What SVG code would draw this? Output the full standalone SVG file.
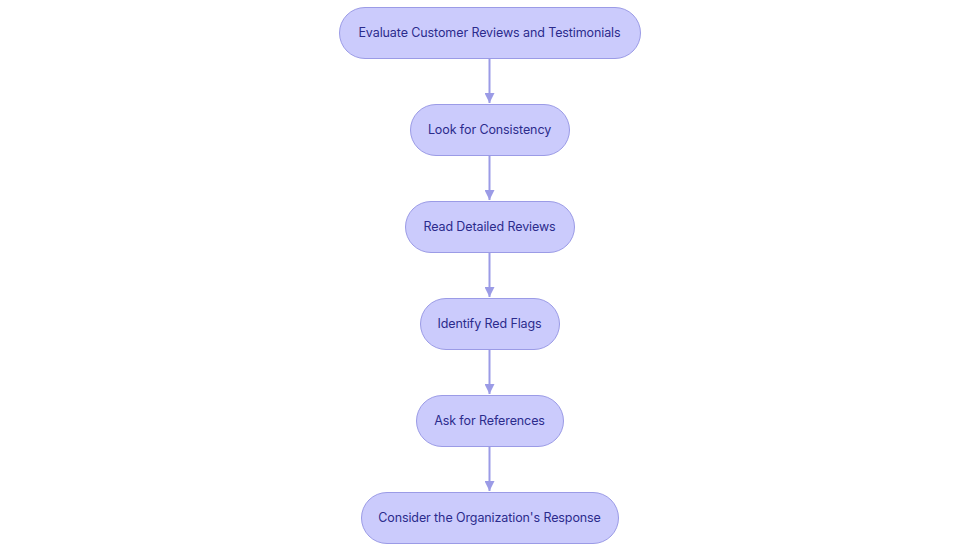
<svg xmlns="http://www.w3.org/2000/svg" width="980" height="553" viewBox="0 0 980 553">
<style>
.node rect{fill:#cbcbfc;stroke:#9b9be6;stroke-width:1}
.node text{font-family:Inter,"Liberation Sans",sans-serif;font-size:12.5px;letter-spacing:-0.1px;fill:#2b2b8c;text-anchor:middle;dominant-baseline:central}
.edge{stroke:#9b9be6;stroke-width:2;fill:none}
</style>
<defs>
<marker id="arr" viewBox="0 0 10 10" refX="10" refY="5" markerWidth="10" markerHeight="10" markerUnits="userSpaceOnUse" orient="auto">
<path d="M0,0 L10,5 L0,10 z" fill="#9b9be6"/>
</marker>
</defs>
<rect width="980" height="553" fill="#ffffff"/>
<g id="connectors">
<path class="edge" d="M489.5,58 V103" marker-end="url(#arr)"/>
<path class="edge" d="M489.5,155 V200" marker-end="url(#arr)"/>
<path class="edge" d="M489.5,252 V297" marker-end="url(#arr)"/>
<path class="edge" d="M489.5,349 V394" marker-end="url(#arr)"/>
<path class="edge" d="M489.5,446 V491" marker-end="url(#arr)"/>
</g>
<g id="n1" class="node"><rect x="339.5" y="7.5" width="301" height="51" rx="25.5"/><text x="489.5" y="32.5">Evaluate Customer Reviews and Testimonials</text></g>
<g id="n2" class="node"><rect x="410.5" y="104.5" width="159" height="51" rx="25.5"/><text x="489.5" y="129.5">Look for Consistency</text></g>
<g id="n3" class="node"><rect x="405.5" y="201.5" width="169" height="51" rx="25.5"/><text x="489.5" y="226.5">Read Detailed Reviews</text></g>
<g id="n4" class="node"><rect x="420.5" y="298.5" width="139" height="51" rx="25.5"/><text x="489.5" y="323.5">Identify Red Flags</text></g>
<g id="n5" class="node"><rect x="416.5" y="395.5" width="147" height="51" rx="25.5"/><text x="489.5" y="420.5">Ask for References</text></g>
<g id="n6" class="node"><rect x="361.5" y="492.5" width="257" height="51" rx="25.5"/><text x="489.5" y="517.5">Consider the Organization's Response</text></g>
</svg>
